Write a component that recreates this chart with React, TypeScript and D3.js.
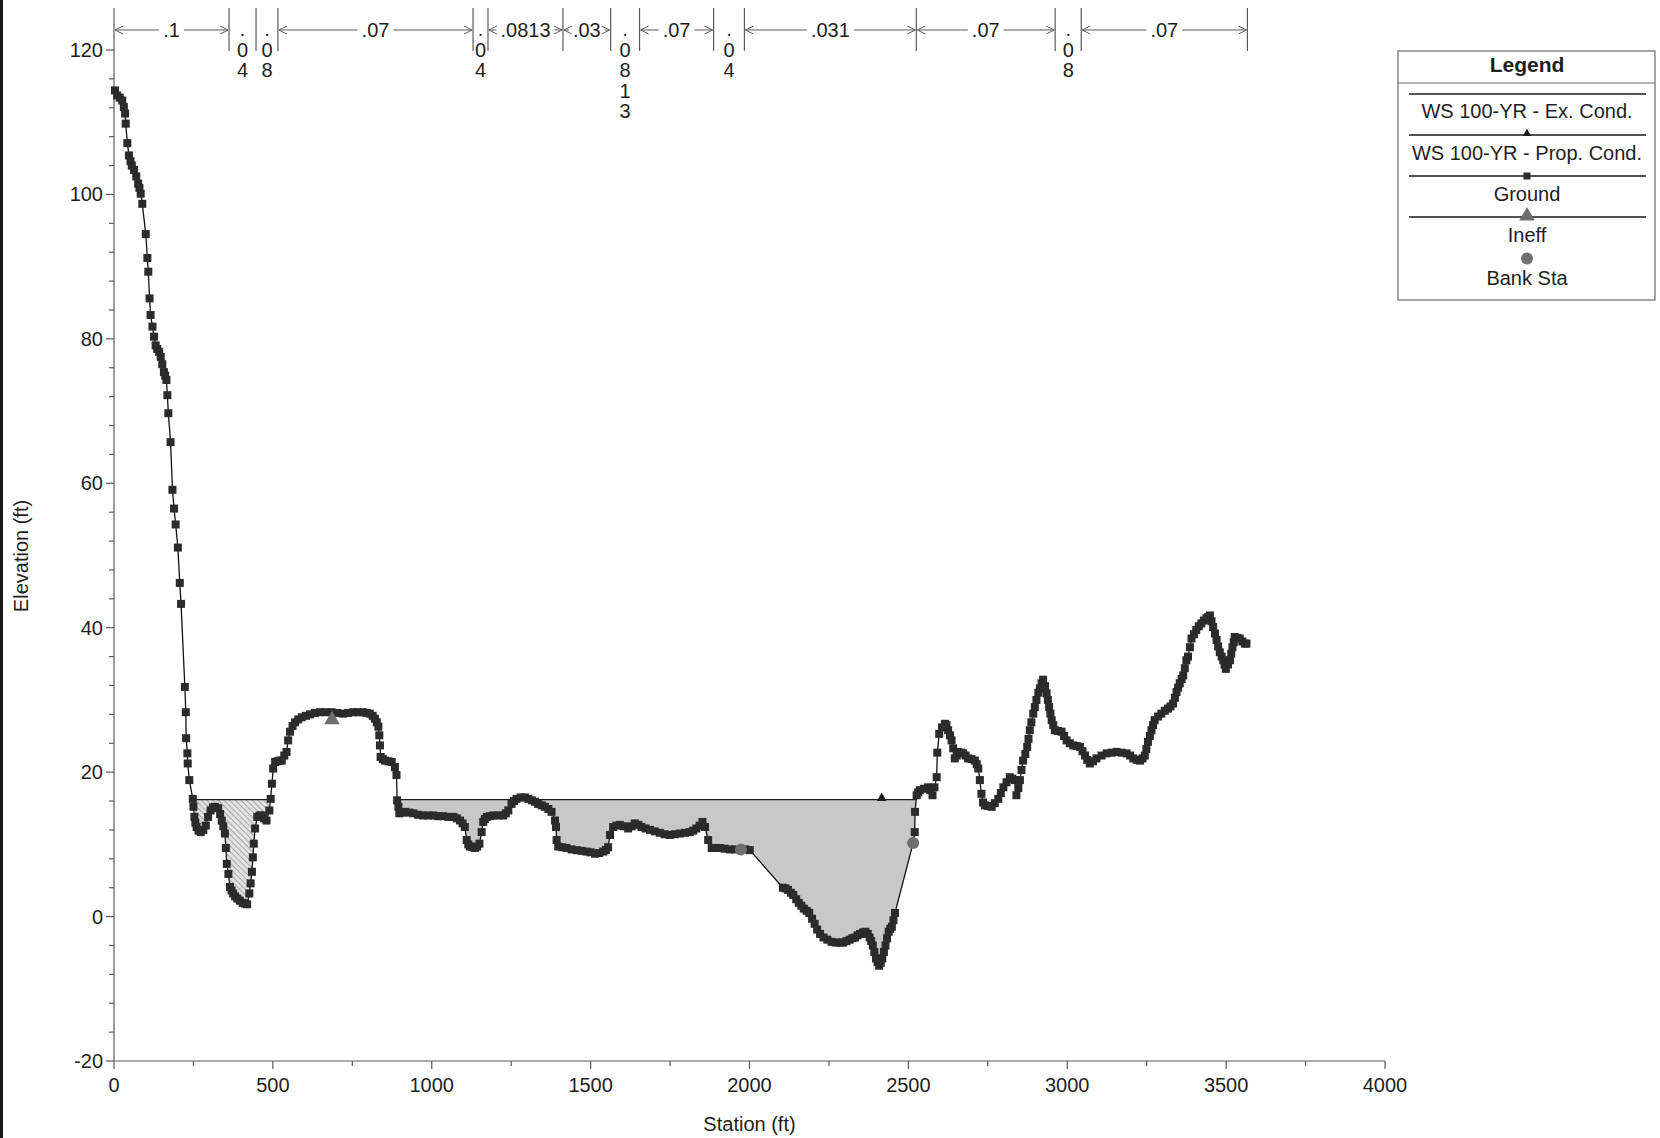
import React from "react";
import * as d3 from "d3";

// ---------------- data ----------------
// Ground survey points: [station (ft), elevation (ft)]
const groundPoints: [number, number][] = [
  [3, 114.4], [10, 113.7], [18, 113.4], [26, 113.0], [31, 112.1], [35, 111.2], [37, 109.8], [42, 107.1], [47, 105.4],
  [52, 104.6], [56, 104.0], [63, 103.4], [70, 102.5], [76, 101.5], [80, 100.9], [84, 100.1], [89, 98.7], [100, 94.5],
  [105, 91.2], [108, 89.3], [112, 85.6], [115, 83.3], [121, 81.7], [126, 80.3], [131, 79.1], [136, 78.6], [142, 78.2],
  [147, 77.5], [152, 76.5], [157, 75.4], [161, 74.9], [165, 74.3], [168, 72.2], [171, 69.7], [178, 65.7], [184, 59.1],
  [189, 56.5], [194, 54.3], [201, 51.1], [207, 46.2], [211, 43.3], [223, 31.8], [226, 28.3], [227, 24.7], [231, 22.6],
  [232, 21.2], [237, 18.9], [248, 16.3], [250, 15.2], [253, 13.8], [256, 13.0], [260, 12.4], [266, 11.9], [273, 11.7],
  [281, 12.0], [289, 12.6], [296, 13.8], [304, 14.7], [311, 15.1], [318, 15.2], [328, 15.0], [334, 14.2], [339, 13.3],
  [344, 12.5], [349, 11.5], [352, 9.5], [355, 7.3], [360, 5.9], [365, 4.1], [370, 3.6], [375, 3.2], [381, 2.8], [388, 2.5],
  [396, 2.2], [405, 1.9], [412, 1.8], [419, 1.7], [426, 3.2], [430, 4.6], [434, 6.2], [437, 8.2], [440, 10.1], [444, 12.2],
  [451, 13.8], [458, 14.0], [465, 14.0], [472, 13.6], [480, 13.3], [489, 14.7], [493, 16.3], [497, 18.4], [501, 20.5],
  [507, 21.4], [514, 21.5], [521, 21.6], [528, 21.6], [536, 22.3], [543, 22.8], [548, 24.4], [554, 25.6], [562, 26.4],
  [570, 26.9], [580, 27.3], [591, 27.6], [604, 27.8], [617, 28.0], [632, 28.2], [648, 28.3], [666, 28.3], [685, 28.3],
  [703, 28.2], [721, 28.1], [737, 28.2], [753, 28.3], [768, 28.3], [784, 28.3], [795, 28.2], [805, 28.1], [814, 27.8],
  [821, 27.4], [827, 26.9], [832, 26.3], [835, 25.1], [837, 23.7], [839, 22.1], [846, 21.8], [853, 21.6], [864, 21.5],
  [874, 21.4], [884, 20.7], [889, 19.6], [891, 16.1], [895, 15.2], [898, 14.3], [907, 14.4], [916, 14.5], [929, 14.4],
  [942, 14.3], [957, 14.1], [973, 14.0], [989, 14.0], [1005, 14.0], [1020, 13.9], [1036, 13.9], [1052, 13.8], [1068, 13.8],
  [1079, 13.6], [1089, 13.3], [1097, 12.9], [1104, 12.4], [1110, 10.6], [1115, 10.0], [1120, 9.7], [1128, 9.6], [1136, 9.5],
  [1143, 9.7], [1150, 10.1], [1157, 11.7], [1162, 13.1], [1167, 13.5], [1173, 13.8], [1183, 13.9], [1194, 14.0], [1210, 14.0],
  [1225, 14.0], [1233, 14.3], [1241, 14.7], [1251, 15.6], [1259, 16.0], [1267, 16.3], [1280, 16.5], [1293, 16.5], [1304, 16.3],
  [1315, 16.1], [1325, 15.9], [1335, 15.6], [1346, 15.4], [1356, 15.2], [1367, 14.9], [1377, 14.5], [1388, 13.3], [1391, 12.4],
  [1393, 10.6], [1398, 9.7], [1411, 9.6], [1424, 9.5], [1440, 9.3], [1456, 9.2], [1471, 9.1], [1487, 9.0], [1500, 8.9],
  [1514, 8.7], [1527, 8.8], [1540, 9.0], [1548, 9.2], [1555, 9.6], [1561, 11.3], [1571, 12.4], [1581, 12.6], [1592, 12.7],
  [1605, 12.5], [1618, 12.2], [1629, 12.5], [1639, 12.9], [1650, 12.7], [1660, 12.4], [1673, 12.2], [1687, 12.0], [1702, 11.8],
  [1718, 11.6], [1733, 11.4], [1749, 11.3], [1765, 11.4], [1781, 11.5], [1797, 11.6], [1812, 11.7], [1823, 11.9], [1833, 12.2],
  [1843, 12.6], [1852, 13.1], [1860, 12.4], [1870, 10.6], [1881, 9.5], [1894, 9.5], [1907, 9.5], [1922, 9.4], [1938, 9.3],
  [1955, 9.3], [1973, 9.3], [1987, 9.3], [2001, 9.2],
  [2105, 4.0], [2113, 3.9], [2121, 3.7], [2130, 3.3], [2138, 3.0], [2147, 2.4], [2155, 1.9], [2163, 1.5], [2171, 1.1],
  [2180, 0.8], [2188, 0.5], [2197, -0.3], [2205, -1.0], [2213, -1.8], [2222, -2.4], [2233, -2.9], [2245, -3.2], [2258, -3.5],
  [2272, -3.6], [2284, -3.6], [2295, -3.6], [2305, -3.4], [2315, -3.2], [2324, -3.0], [2332, -2.9], [2340, -2.6], [2348, -2.4],
  [2357, -2.2], [2365, -2.1], [2372, -2.4], [2378, -2.9], [2383, -3.4], [2388, -4.0], [2393, -4.9], [2398, -5.8], [2403, -6.3],
  [2408, -6.8], [2413, -6.4], [2418, -5.8], [2423, -4.9], [2428, -4.0], [2433, -3.0], [2438, -2.1], [2443, -1.7], [2448, -1.4],
  [2453, -0.5], [2458, 0.5], [2515, 10.2],
  [2520, 11.7], [2521, 14.5], [2526, 16.8], [2531, 17.2], [2536, 17.5], [2549, 17.7], [2562, 17.9], [2569, 17.5], [2576, 16.8],
  [2582, 17.9], [2589, 19.3], [2591, 22.7], [2597, 25.3], [2606, 26.2], [2615, 26.7], [2620, 26.5], [2625, 25.8], [2631, 25.1],
  [2636, 24.4], [2641, 23.3], [2646, 21.9], [2652, 22.3], [2657, 22.8], [2665, 22.7], [2672, 22.6], [2680, 22.3], [2688, 21.9],
  [2699, 21.8], [2709, 21.6], [2715, 21.1], [2720, 20.5], [2725, 18.9], [2730, 17.0], [2735, 15.8], [2741, 15.4], [2751, 15.3],
  [2762, 15.2], [2772, 15.7], [2783, 16.3], [2791, 17.1], [2799, 17.9], [2809, 18.6], [2819, 19.3], [2827, 19.1], [2835, 18.9],
  [2840, 16.8], [2846, 17.8], [2851, 18.9], [2856, 20.3], [2861, 21.6], [2868, 22.5], [2874, 23.5], [2878, 24.6], [2882, 25.8],
  [2887, 26.9], [2893, 28.1], [2898, 29.0], [2903, 30.0], [2909, 31.0], [2914, 31.6], [2919, 32.3], [2924, 32.8], [2930, 31.9],
  [2935, 30.9], [2939, 30.0], [2943, 29.0], [2947, 28.1], [2951, 27.2], [2956, 26.5], [2961, 25.8], [2971, 25.7], [2982, 25.6],
  [2990, 25.0], [2998, 24.4], [3008, 24.0], [3019, 23.7], [3030, 23.6], [3040, 23.5], [3048, 22.9], [3056, 22.3], [3063, 21.7],
  [3071, 21.2], [3081, 21.5], [3092, 21.9], [3108, 22.3], [3124, 22.6], [3140, 22.7], [3155, 22.8], [3171, 22.7], [3187, 22.6],
  [3198, 22.3], [3208, 21.9], [3219, 21.7], [3229, 21.6], [3237, 21.9], [3244, 22.3], [3249, 23.2], [3254, 24.2], [3260, 25.0],
  [3265, 25.8], [3270, 26.5], [3275, 27.2], [3286, 27.7], [3296, 28.1], [3307, 28.5], [3317, 28.8], [3325, 29.1], [3333, 29.5],
  [3339, 30.3], [3344, 31.1], [3349, 31.7], [3354, 32.3], [3360, 32.9], [3365, 33.4], [3370, 34.4], [3375, 35.5], [3380, 36.0],
  [3386, 37.3], [3391, 38.5], [3399, 39.1], [3406, 39.7], [3414, 40.2], [3422, 40.6], [3430, 41.0], [3438, 41.3], [3444, 41.5],
  [3449, 41.7], [3454, 40.9], [3459, 40.1], [3465, 39.2], [3470, 38.3], [3475, 37.4], [3480, 36.6], [3486, 36.0], [3491, 35.5],
  [3495, 34.9], [3499, 34.3], [3506, 34.9], [3512, 35.5], [3516, 36.4], [3520, 37.3], [3524, 38.0], [3527, 38.7], [3535, 38.6],
  [3543, 38.5], [3551, 38.1], [3559, 37.8], [3564, 37.8],
];

const wsElevation = 16.2; // WS 100-YR (Ex. and Prop. coincide)
const wsSegStart = [248, 891];
const wsSegEnd = [493, 2525];
const wsMarkerStation = [2416];

const ineffStation = [686];
const ineffElevation = [27.4];

const bankStation = [1973, 2515];
const bankElevation = [9.3, 10.2];

const nBoundaries = [0, 362, 447, 516, 1130, 1177, 1413, 1563, 1654, 1887, 1984, 2525, 2962, 3044, 3567];
const nValues = [".1", ".04", ".08", ".07", ".04", ".0813", ".03", ".0813", ".07", ".04", ".031", ".07", ".08", ".07"];

const xMajorTicks = [0, 500, 1000, 1500, 2000, 2500, 3000, 3500, 4000];
const yMajorTicks = [-20, 0, 20, 40, 60, 80, 100, 120];

const legendLabels = ["WS 100-YR - Ex. Cond.", "WS 100-YR - Prop. Cond.", "Ground", "Ineff", "Bank Sta"];

// ---------------- layout ----------------
const W = 1660;
const H = 1138;
const FONT = "'Liberation Sans', Arial, Helvetica, sans-serif";
const FS = 20;
const AXIS = "#5a5a5a";
const TEXT = "#1e1e1e";
const SQ = 8;

const x = d3.scaleLinear().domain([0, 4000]).range([114, 1385]);
const y = d3.scaleLinear().domain([-20, 120]).range([1061, 50]);

const charW: Record<string, number> = { ".": 0.278 };
const textWidth = (s: string) => s.split("").reduce((a, c) => a + (charW[c] ?? 0.556), 0) * FS;

export default function App() {
  const ground = groundPoints;
  const line = d3.line<[number, number]>().x((d) => x(d[0])).y((d) => y(d[1]));

  const fills = wsSegStart.map((a, i) => {
    const b = wsSegEnd[i];
    const pts: [number, number][] = [[a, wsElevation], ...ground.filter((g) => g[0] > a && g[0] < b), [b, wsElevation]];
    return line(pts) + "Z";
  });

  const xMinor = d3.range(0, 4001, 250);
  const yMinor = d3.range(-20, 121, 4);

  const nLabels: JSX.Element[] = [];
  for (let i = 0; i < nValues.length; i++) {
    const xa = x(nBoundaries[i]);
    const xb = x(nBoundaries[i + 1]);
    const cx = (xa + xb) / 2;
    const lab = nValues[i];
    const w = textWidth(lab);
    const ay = 30;
    if (xb - xa >= w + 14) {
      const l1 = cx - w / 2 - 4;
      const r1 = cx + w / 2 + 4;
      nLabels.push(
        <g key={"n" + i} stroke={AXIS} strokeWidth={1} fill="none">
          {l1 > xa + 2 && <line x1={xa + 1} x2={l1} y1={ay} y2={ay} />}
          {r1 < xb - 2 && <line x1={r1} x2={xb - 1} y1={ay} y2={ay} />}
          <polyline points={`${xa + 9},${ay - 4} ${xa + 1},${ay} ${xa + 9},${ay + 4}`} />
          <polyline points={`${xb - 9},${ay - 4} ${xb - 1},${ay} ${xb - 9},${ay + 4}`} />
          <text x={cx} y={37} textAnchor="middle" fill={TEXT} stroke="none" fontSize={FS} fontFamily={FONT}>
            {lab}
          </text>
        </g>
      );
    } else {
      nLabels.push(
        <g key={"n" + i}>
          {lab.split("").map((c, k) => (
            <text key={k} x={cx} y={36 + k * 20.5} textAnchor="middle" fill={TEXT} fontSize={FS} fontFamily={FONT}>
              {c}
            </text>
          ))}
        </g>
      );
    }
  }

  const lx1 = 1409, lx2 = 1646, lcx = 1527;
  const tri = (cx: number, cy: number, s: number) =>
    `M${cx},${cy - s * 0.62}L${cx + s * 0.6},${cy + s * 0.42}L${cx - s * 0.6},${cy + s * 0.42}Z`;

  return (
    <svg width={W} height={H} style={{ position: "absolute", left: 0, top: 0, display: "block", background: "#fff" }}>
      <defs>
        <pattern id="hatch" width={4} height={4} patternUnits="userSpaceOnUse" patternTransform="rotate(-45)">
          <rect width={4} height={4} fill="#e2e2e2" />
          <line x1={0} y1={0} x2={0} y2={4} stroke="#8f8f8f" strokeWidth={1.4} />
        </pattern>
        <clipPath id="belowWS">
          <rect x={0} y={y(wsElevation)} width={W} height={H} />
        </clipPath>
      </defs>
      <rect x={0} y={0} width={W} height={H} fill="#fff" />
      <rect x={0} y={0} width={3} height={H} fill="#1a1a1a" />

      {/* water surface fills */}
      <g clipPath="url(#belowWS)">
        <path d={fills[0]} fill="url(#hatch)" stroke="none" />
        <path d={fills[1]} fill="#c8c8c8" stroke="none" />
      </g>
      {wsSegStart.map((a, i) => (
        <line key={"ws" + i} x1={x(a)} x2={x(wsSegEnd[i])} y1={y(wsElevation)} y2={y(wsElevation)} stroke="#1a1a1a" strokeWidth={1.3} />
      ))}
      {wsMarkerStation.map((s, i) => (
        <path key={"wsm" + i} d={tri(x(s), y(wsElevation) - 2, 8)} fill="#1a1a1a" />
      ))}

      {/* axes */}
      <g stroke={AXIS} strokeWidth={1.2}>
        <line x1={x(0)} x2={x(0)} y1={y(120)} y2={y(-20)} />
        <line x1={x(0)} x2={x(4000)} y1={y(-20)} y2={y(-20)} />
        {yMinor.map((t) => (
          <line key={"ym" + t} x1={x(0) - (t % 20 === 0 ? 8 : 5)} x2={x(0)} y1={y(t)} y2={y(t)} />
        ))}
        {xMinor.map((t) => (
          <line key={"xm" + t} x1={x(t)} x2={x(t)} y1={y(-20)} y2={y(-20) + (t % 500 === 0 ? 8 : 5)} />
        ))}
      </g>
      <g fontFamily={FONT} fontSize={FS} fill={TEXT}>
        {yMajorTicks.map((t) => (
          <text key={"yl" + t} x={x(0) - 11} y={y(t) + 7} textAnchor="end">
            {t}
          </text>
        ))}
        {xMajorTicks.map((t) => (
          <text key={"xl" + t} x={x(t)} y={1092} textAnchor="middle">
            {t}
          </text>
        ))}
        <text x={x(2000)} y={1131} textAnchor="middle">
          Station (ft)
        </text>
        <text transform={`translate(28,556) rotate(-90)`} textAnchor="middle">
          Elevation (ft)
        </text>
      </g>

      {/* Manning's n annotations */}
      <g stroke={AXIS} strokeWidth={1.2}>
        {nBoundaries.map((b, i) => (
          <line key={"nb" + i} x1={x(b)} x2={x(b)} y1={8} y2={51} />
        ))}
      </g>
      {nLabels}

      {/* ground */}
      <path d={line(ground) ?? ""} fill="none" stroke="#111" strokeWidth={1.3} />
      <g fill="#2b2b2b">
        {ground.map((g, i) => (
          <rect key={"g" + i} x={x(g[0]) - SQ / 2} y={y(g[1]) - SQ / 2} width={SQ} height={SQ} />
        ))}
      </g>

      {/* ineffective & bank stations */}
      {ineffStation.map((s, i) => (
        <path key={"in" + i} d={tri(x(s), y(ineffElevation[i]), 13)} fill="#6e6e6e" />
      ))}
      {bankStation.map((s, i) => (
        <circle key={"bk" + i} cx={x(s)} cy={y(bankElevation[i])} r={6} fill="#6f6f6f" />
      ))}

      {/* legend */}
      <g fontFamily={FONT} fontSize={FS} fill={TEXT}>
        <rect x={1398} y={51} width={257} height={249} fill="#fff" stroke="#6a6a6a" strokeWidth={1.2} />
        <text x={lcx} y={72} textAnchor="middle" fontWeight="bold" fontSize={21}>
          Legend
        </text>
        <line x1={1398} x2={1655} y1={83} y2={83} stroke="#6a6a6a" strokeWidth={1.2} />
        <line x1={lx1} x2={lx2} y1={94} y2={94} stroke="#1a1a1a" strokeWidth={1.3} />
        <text x={lcx} y={118} textAnchor="middle">{legendLabels[0]}</text>
        <line x1={lx1} x2={lx2} y1={135} y2={135} stroke="#1a1a1a" strokeWidth={1.3} />
        <path d={tri(lcx, 133, 7)} fill="#1a1a1a" />
        <text x={lcx} y={159.5} textAnchor="middle">{legendLabels[1]}</text>
        <line x1={lx1} x2={lx2} y1={176} y2={176} stroke="#1a1a1a" strokeWidth={1.3} />
        <rect x={lcx - 3.5} y={172.5} width={7} height={7} fill="#2b2b2b" />
        <text x={lcx} y={200.5} textAnchor="middle">{legendLabels[2]}</text>
        <line x1={lx1} x2={lx2} y1={217} y2={217} stroke="#1a1a1a" strokeWidth={1.3} />
        <path d={tri(lcx, 215, 13)} fill="#6e6e6e" />
        <text x={lcx} y={242} textAnchor="middle">{legendLabels[3]}</text>
        <circle cx={lcx} cy={258.5} r={6} fill="#6f6f6f" />
        <text x={lcx} y={284.5} textAnchor="middle">{legendLabels[4]}</text>
      </g>
    </svg>
  );
}
